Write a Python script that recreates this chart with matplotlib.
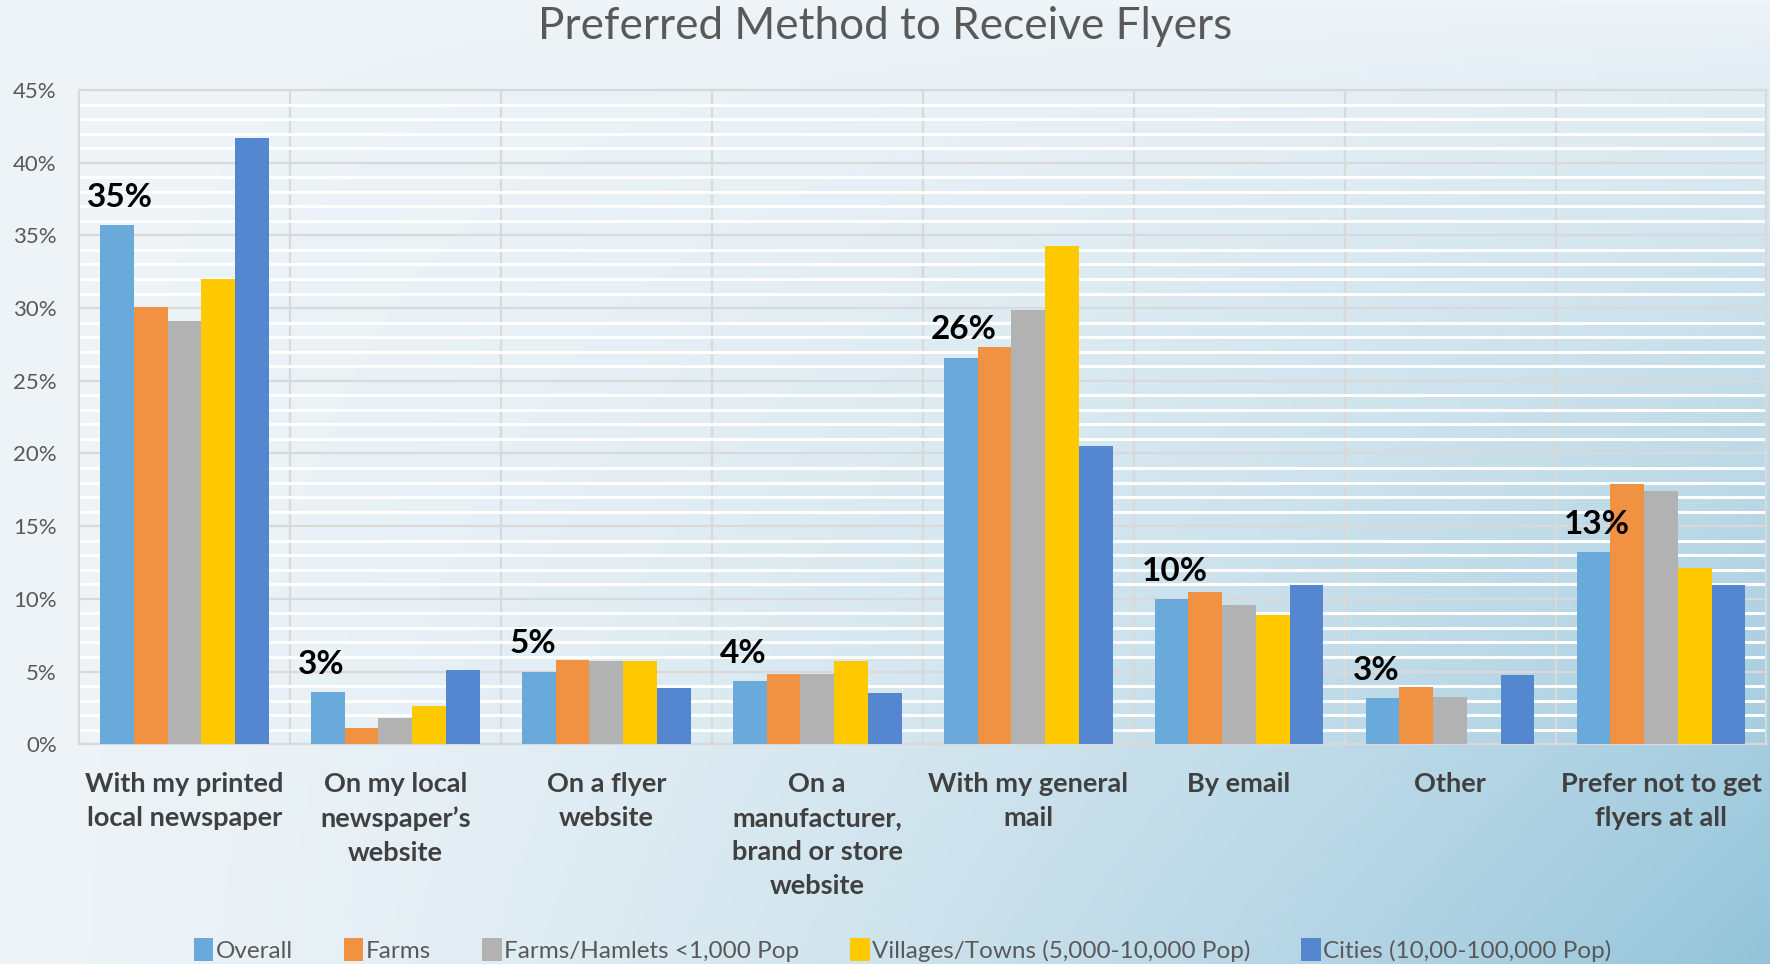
import matplotlib.pyplot as plt
import numpy as np

categories = ['With my printed\nlocal newspaper', 'On my local\nnewspaper\u2019s\nwebsite',
              'On a flyer\nwebsite', 'On a\nmanufacturer,\nbrand or store\nwebsite',
              'With my general\nmail', 'By email', 'Other', 'Prefer not to get\nflyers at all']
series = ['Overall', 'Farms', 'Farms/Hamlets <1,000 Pop',
          'Villages/Towns (5,000-10,000 Pop)', 'Cities (10,00-100,000 Pop)']
overall = [35.7, 3.6, 5.0, 4.35, 26.6, 10.0, 3.2, 13.2]
farms = [30.1, 1.1, 5.8, 4.8, 27.35, 10.5, 3.96, 17.9]
hamlets = [29.1, 1.8, 5.7, 4.8, 29.9, 9.6, 3.26, 17.4]
villages = [32.0, 2.6, 5.75, 5.75, 34.3, 8.9, 0.0, 12.1]
cities = [41.7, 5.1, 3.9, 3.5, 20.5, 10.96, 4.74, 10.96]
labels = ['35%', '3%', '5%', '4%', '26%', '10%', '3%', '13%']
colors = ['#6aaadb', '#f19243', '#b2b2b2', '#ffc902', '#5487cf']

plt.rcParams['font.family'] = ['Lato', 'DejaVu Sans']

fig = plt.figure(figsize=(17.7, 9.64), dpi=100)

# background gradient
bg = fig.add_axes([0, 0, 1, 1], zorder=-10)
gx, gy = np.meshgrid(np.linspace(0, 1, 400), np.linspace(0, 1, 220))
t = np.clip(gx ** 1.5 * gy ** 0.8, 0, 1)[..., None]
c0 = np.array([238, 244, 248]) / 255
c1 = np.array([148, 196, 218]) / 255
bg.imshow(c0 + (c1 - c0) * t, aspect='auto', extent=[0, 1, 0, 1], origin='upper')
bg.axis('off')

ax = fig.add_axes([0.0446, 0.228, 0.9534, 0.6786])
ax.set_facecolor('none')

x = np.arange(len(categories))
w = 0.16
data = [overall, farms, hamlets, villages, cities]
for i, vals in enumerate(data):
    ax.bar(x + (i - 2) * w, vals, w, color=colors[i], label=series[i], zorder=3)

# data labels for the Overall series
for i in range(len(categories)):
    ax.text(x[i] - 2.5 * w - 0.06, overall[i] + 1.9, labels[i], ha='left', va='center',
            fontsize=24, fontweight='bold', color='black', zorder=4)

ax.set_xlim(-0.5, len(categories) - 0.5)
ax.set_ylim(0, 45)
ax.set_yticks(np.arange(0, 46, 5))
ax.set_yticklabels([f'{v}%' for v in range(0, 46, 5)])
ax.set_yticks([v for v in range(0, 46) if v % 5], minor=True)
ax.grid(which='minor', axis='y', color='white', linewidth=2.2, zorder=0)
ax.grid(which='major', axis='y', color='#d9d9d9', linewidth=1.6, zorder=1)
for b in np.arange(0.5, len(categories) - 1, 1):
    ax.axvline(b, color='#d9d9d9', linewidth=1.6, zorder=1)

ax.set_xticks(x)
ax.set_xticklabels(categories, fontsize=19.5, fontweight='bold', color='#404040',
                   linespacing=1.5, va='top')
ax.tick_params(axis='x', length=0, pad=20)
ax.tick_params(axis='y', which='both', length=0, pad=16, labelsize=16, labelcolor='#595959')
for s in ax.spines.values():
    s.set_color('#d9d9d9')
    s.set_linewidth(1.6)

fig.text(0.5, 0.972, 'Preferred Method to Receive Flyers', ha='center', va='center',
         fontsize=31.8, color='#595959')

fig.legend(loc='center', bbox_to_anchor=(0.51, 0.015), ncol=5, frameon=False,
           fontsize=17.5, labelcolor='#595959', handlelength=0.8, handleheight=1.1,
           handletextpad=0.1, columnspacing=2.1)

fig.savefig('out.png', dpi=100)
